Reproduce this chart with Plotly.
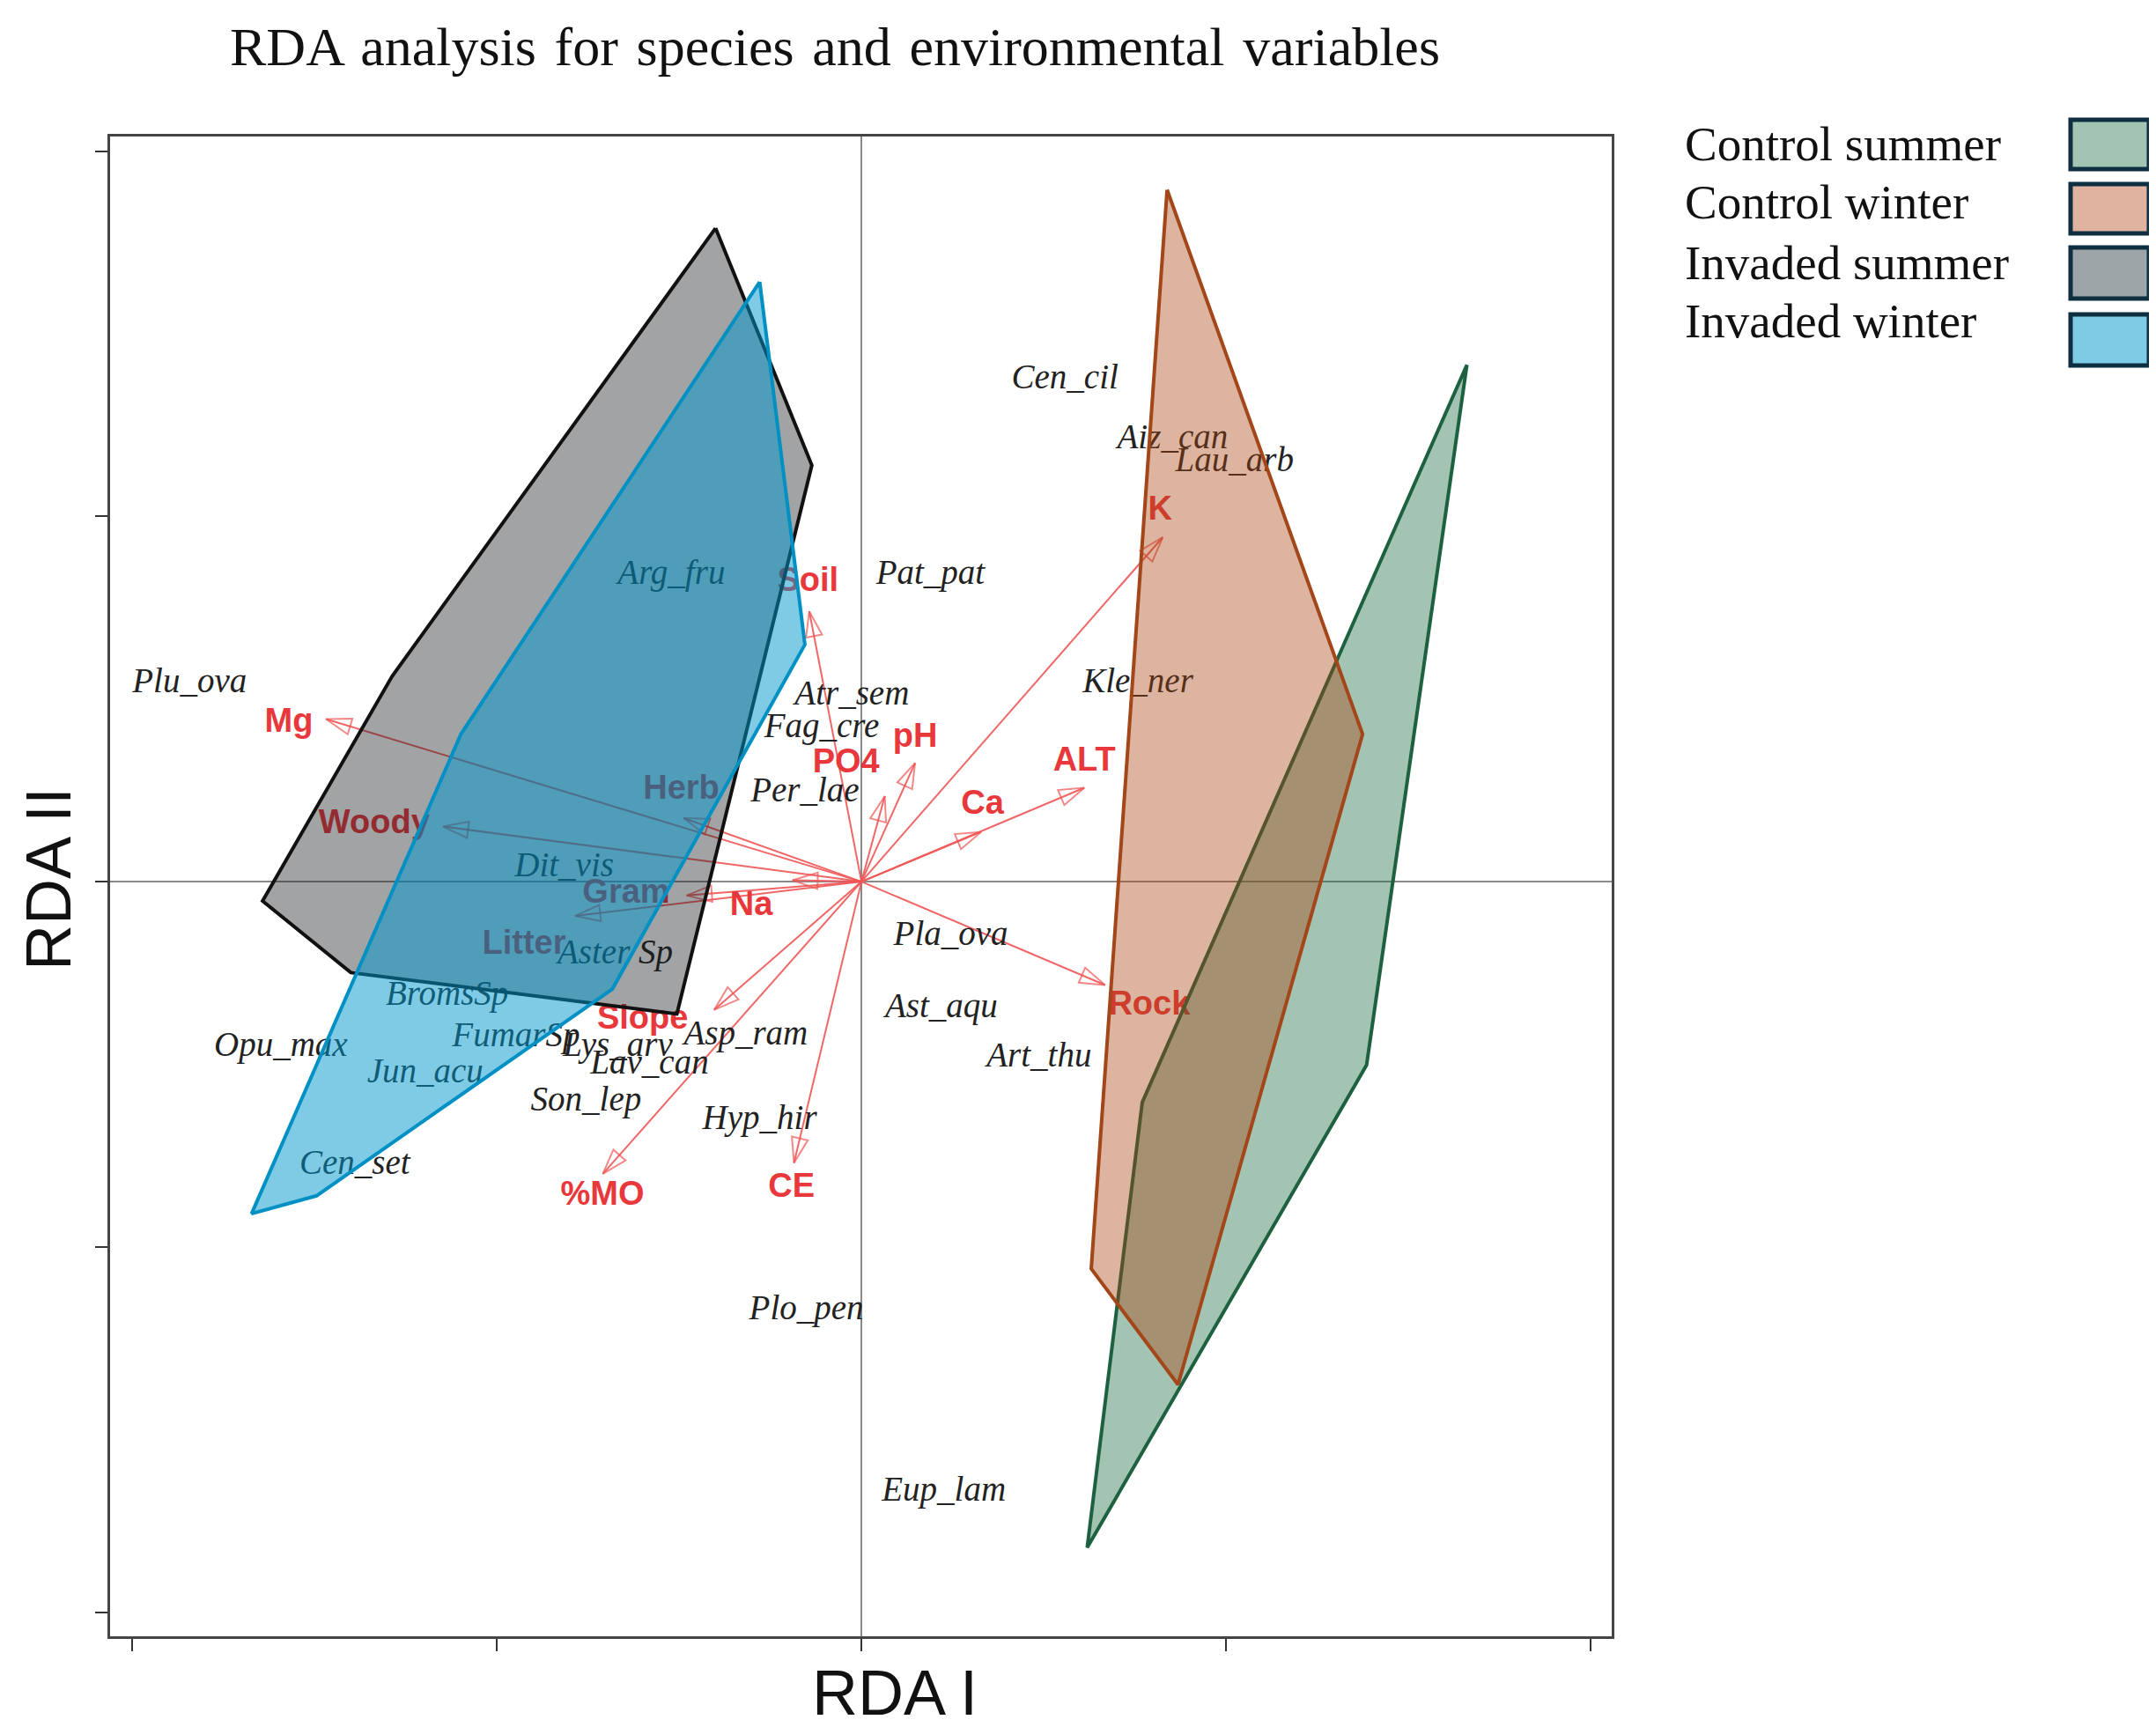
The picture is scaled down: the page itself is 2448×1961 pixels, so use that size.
import plotly.graph_objects as go

W, H = 2448, 1961
L, R, T, B = 117, 1822, 147, 1850

title_text = "RDA analysis for species and environmental variables"
x_title = "RDA I"
y_title = "RDA II"

# Environmental vectors (arrow tips) and label positions
env_names = ["Mg", "Woody", "Herb", "Gram", "Na", "Litter", "Soil", "PO4",
             "pH", "Ca", "ALT", "K", "Rock", "Slope", "%MO", "CE"]
env_x = [-1.468, -1.147, -0.487, -0.479, -0.189, -0.785, -0.143, 0.064,
         0.147, 0.328, 0.611, 0.826, 0.668, -0.404, -0.709, -0.185]
env_y = [0.445, 0.151, 0.174, -0.038, 0.004, -0.094, 0.740, 0.234,
         0.325, 0.136, 0.257, 0.943, -0.283, -0.351, -0.800, -0.770]
env_lab_x = [-1.570, -1.336, -0.494, -0.645, -0.302, -0.925, -0.147, -0.042,
             0.147, 0.332, 0.611, 0.819, 0.789, -0.600, -0.710, -0.192]
env_lab_y = [0.434, 0.155, 0.249, -0.034, -0.068, -0.174, 0.819, 0.321,
             0.392, 0.208, 0.328, 1.015, -0.340, -0.380, -0.862, -0.839]

# Species scores
sp_names = ["Plu_ova", "Arg_fru", "Pat_pat", "Cen_cil", "Aiz_can", "Lau_arb",
            "Atr_sem", "Fag_cre", "Per_lae", "Kle_ner", "Dit_vis", "Aster Sp",
            "BromsSp", "Opu_max", "FumarSp", "Jun_acu", "Lys_arv", "Lav_can",
            "Asp_ram", "Son_lep", "Hyp_hir", "Cen_set", "Pla_ova", "Ast_aqu",
            "Art_thu", "Plo_pen", "Eup_lam"]
sp_x = [-1.842, -0.521, 0.189, 0.558, 0.853, 1.023,
        -0.026, -0.109, -0.155, 0.758, -0.815, -0.675,
        -1.136, -1.592, -0.947, -1.196, -0.668, -0.581,
        -0.317, -0.755, -0.279, -1.389, 0.245, 0.219,
        0.487, -0.151, 0.226]
sp_y = [0.543, 0.838, 0.838, 1.374, 1.211, 1.147,
        0.509, 0.419, 0.242, 0.543, 0.038, -0.200,
        -0.313, -0.453, -0.426, -0.525, -0.453, -0.502,
        -0.423, -0.604, -0.653, -0.777, -0.151, -0.347,
        -0.483, -1.174, -1.672]

# Group hulls
groups = ["Control summer", "Control winter", "Invaded summer", "Invaded winter"]
cs_x = [1.660, 1.385, 0.619, 0.770]
cs_y = [1.415, -0.502, -1.823, -0.604]
cw_x = [0.838, 1.374, 0.868, 0.630]
cw_y = [1.894, 0.404, -1.377, -1.060]
is_x = [-0.400, -0.136, -0.506, -1.400, -1.642, -1.287]
is_y = [1.789, 1.140, -0.362, -0.249, -0.053, 0.562]
iw_x = [-0.279, -0.155, -0.683, -1.494, -1.672, -1.098]
iw_y = [1.642, 0.649, -0.294, -0.860, -0.909, 0.404]

hull_x = [cs_x, cw_x, is_x, iw_x]
hull_y = [cs_y, cw_y, is_y, iw_y]
hull_line = ["#1d6140", "#a3461a", "#111111", "#0090c4"]
hull_fill = ["rgba(25,107,65,0.4)", "rgba(167,67,17,0.4)",
             "rgba(20,25,30,0.4)", "rgba(0,151,205,0.5)"]
legend_fill = ["#a3c4b3", "#dfb3a0", "#9da5a9", "#7ecbe6"]

fig = go.Figure()

# arrows
for ex, ey in zip(env_x, env_y):
    fig.add_trace(go.Scatter(
        x=[0, ex], y=[0, ey], mode="lines+markers",
        line=dict(color="rgba(240,85,85,0.9)", width=2),
        marker=dict(symbol=["circle", "arrow-open"], size=[0, 30],
                    angleref="previous", color="#f05555",
                    line=dict(color="#f05555", width=2)),
        hoverinfo="skip", showlegend=False))

# env labels
fig.add_trace(go.Scatter(
    x=env_lab_x, y=env_lab_y, mode="text",
    text=["<b>%s</b>" % n for n in env_names],
    textfont=dict(family="Liberation Sans, Arial", size=38, color="#e8383c"),
    textposition="middle center", hoverinfo="skip", showlegend=False))

# species labels
fig.add_trace(go.Scatter(
    x=sp_x, y=sp_y, mode="text", text=sp_names,
    textfont=dict(family="Liberation Serif, Times New Roman", size=39,
                  color="#222222", style="italic"),
    textposition="middle center", hoverinfo="skip", showlegend=False))

# hulls
for gx, gy, lc, fc, name in zip(hull_x, hull_y, hull_line, hull_fill, groups):
    fig.add_trace(go.Scatter(
        x=gx + [gx[0]], y=gy + [gy[0]], mode="lines", fill="toself",
        fillcolor=fc, line=dict(color=lc, width=4), name=name,
        hoverinfo="skip", showlegend=False))

pw, ph = R - L, B - T


def px2paper(px, py):
    return (px - L) / pw, (B - py) / ph


annotations = []
# title (slightly wider word spacing as in the original)
tx, ty = px2paper(940, 45)
annotations.append(dict(text=title_text.replace(" ", " \u200a"), x=tx, y=ty,
                        xref="paper", yref="paper",
                        showarrow=False, xanchor="center", yanchor="middle",
                        font=dict(family="Liberation Serif, Times New Roman",
                                  size=62, color="#111111")))
ax_, ay_ = px2paper(1008, 1914)
annotations.append(dict(text=x_title, x=ax_, y=ay_, xref="paper", yref="paper",
                        showarrow=False, xanchor="center", yanchor="middle",
                        font=dict(family="Liberation Sans, Arial", size=72,
                                  color="#111111")))
bx_, by_ = px2paper(47, 990)
annotations.append(dict(text=y_title, x=bx_, y=by_, xref="paper", yref="paper",
                        showarrow=False, xanchor="center", yanchor="middle",
                        textangle=-90,
                        font=dict(family="Liberation Sans, Arial", size=72,
                                  color="#111111")))

shapes = []
text_rows = [155, 222, 290, 357]
box_rows = [(128, 184), (201, 257), (273, 331), (349, 407)]
for name, fc, tyc, (b0, b1) in zip(groups, legend_fill, text_rows, box_rows):
    lx, ly = px2paper(1903, tyc)
    annotations.append(dict(text=name, x=lx, y=ly, xref="paper", yref="paper",
                            showarrow=False, xanchor="left", yanchor="middle",
                            font=dict(family="Liberation Serif, Times New Roman",
                                      size=55, color="#111111")))
    x0, y0 = px2paper(2343, b1)
    x1, y1 = px2paper(2432, b0)
    shapes.append(dict(type="rect", xref="paper", yref="paper",
                       x0=x0, y0=y0, x1=x1, y1=y1, fillcolor=fc,
                       line=dict(color="#0e2f3f", width=5)))

axis_common = dict(showgrid=False, zeroline=True, zerolinecolor="#8a8a8a",
                   zerolinewidth=2, showline=True, linecolor="#444444",
                   linewidth=3, mirror=True, ticks="outside", ticklen=14,
                   tickwidth=2, tickcolor="#333333",
                   tickvals=[-2, -1, 0, 1, 2], showticklabels=False)

fig.update_layout(
    width=W, height=H,
    margin=dict(l=L, r=W - R, t=T, b=H - B),
    paper_bgcolor="white", plot_bgcolor="white",
    xaxis=dict(range=[-2.06, 2.057], **axis_common),
    yaxis=dict(range=[-2.066, 2.04], **axis_common),
    annotations=annotations, shapes=shapes, showlegend=False,
)

fig.write_html("out.html")
